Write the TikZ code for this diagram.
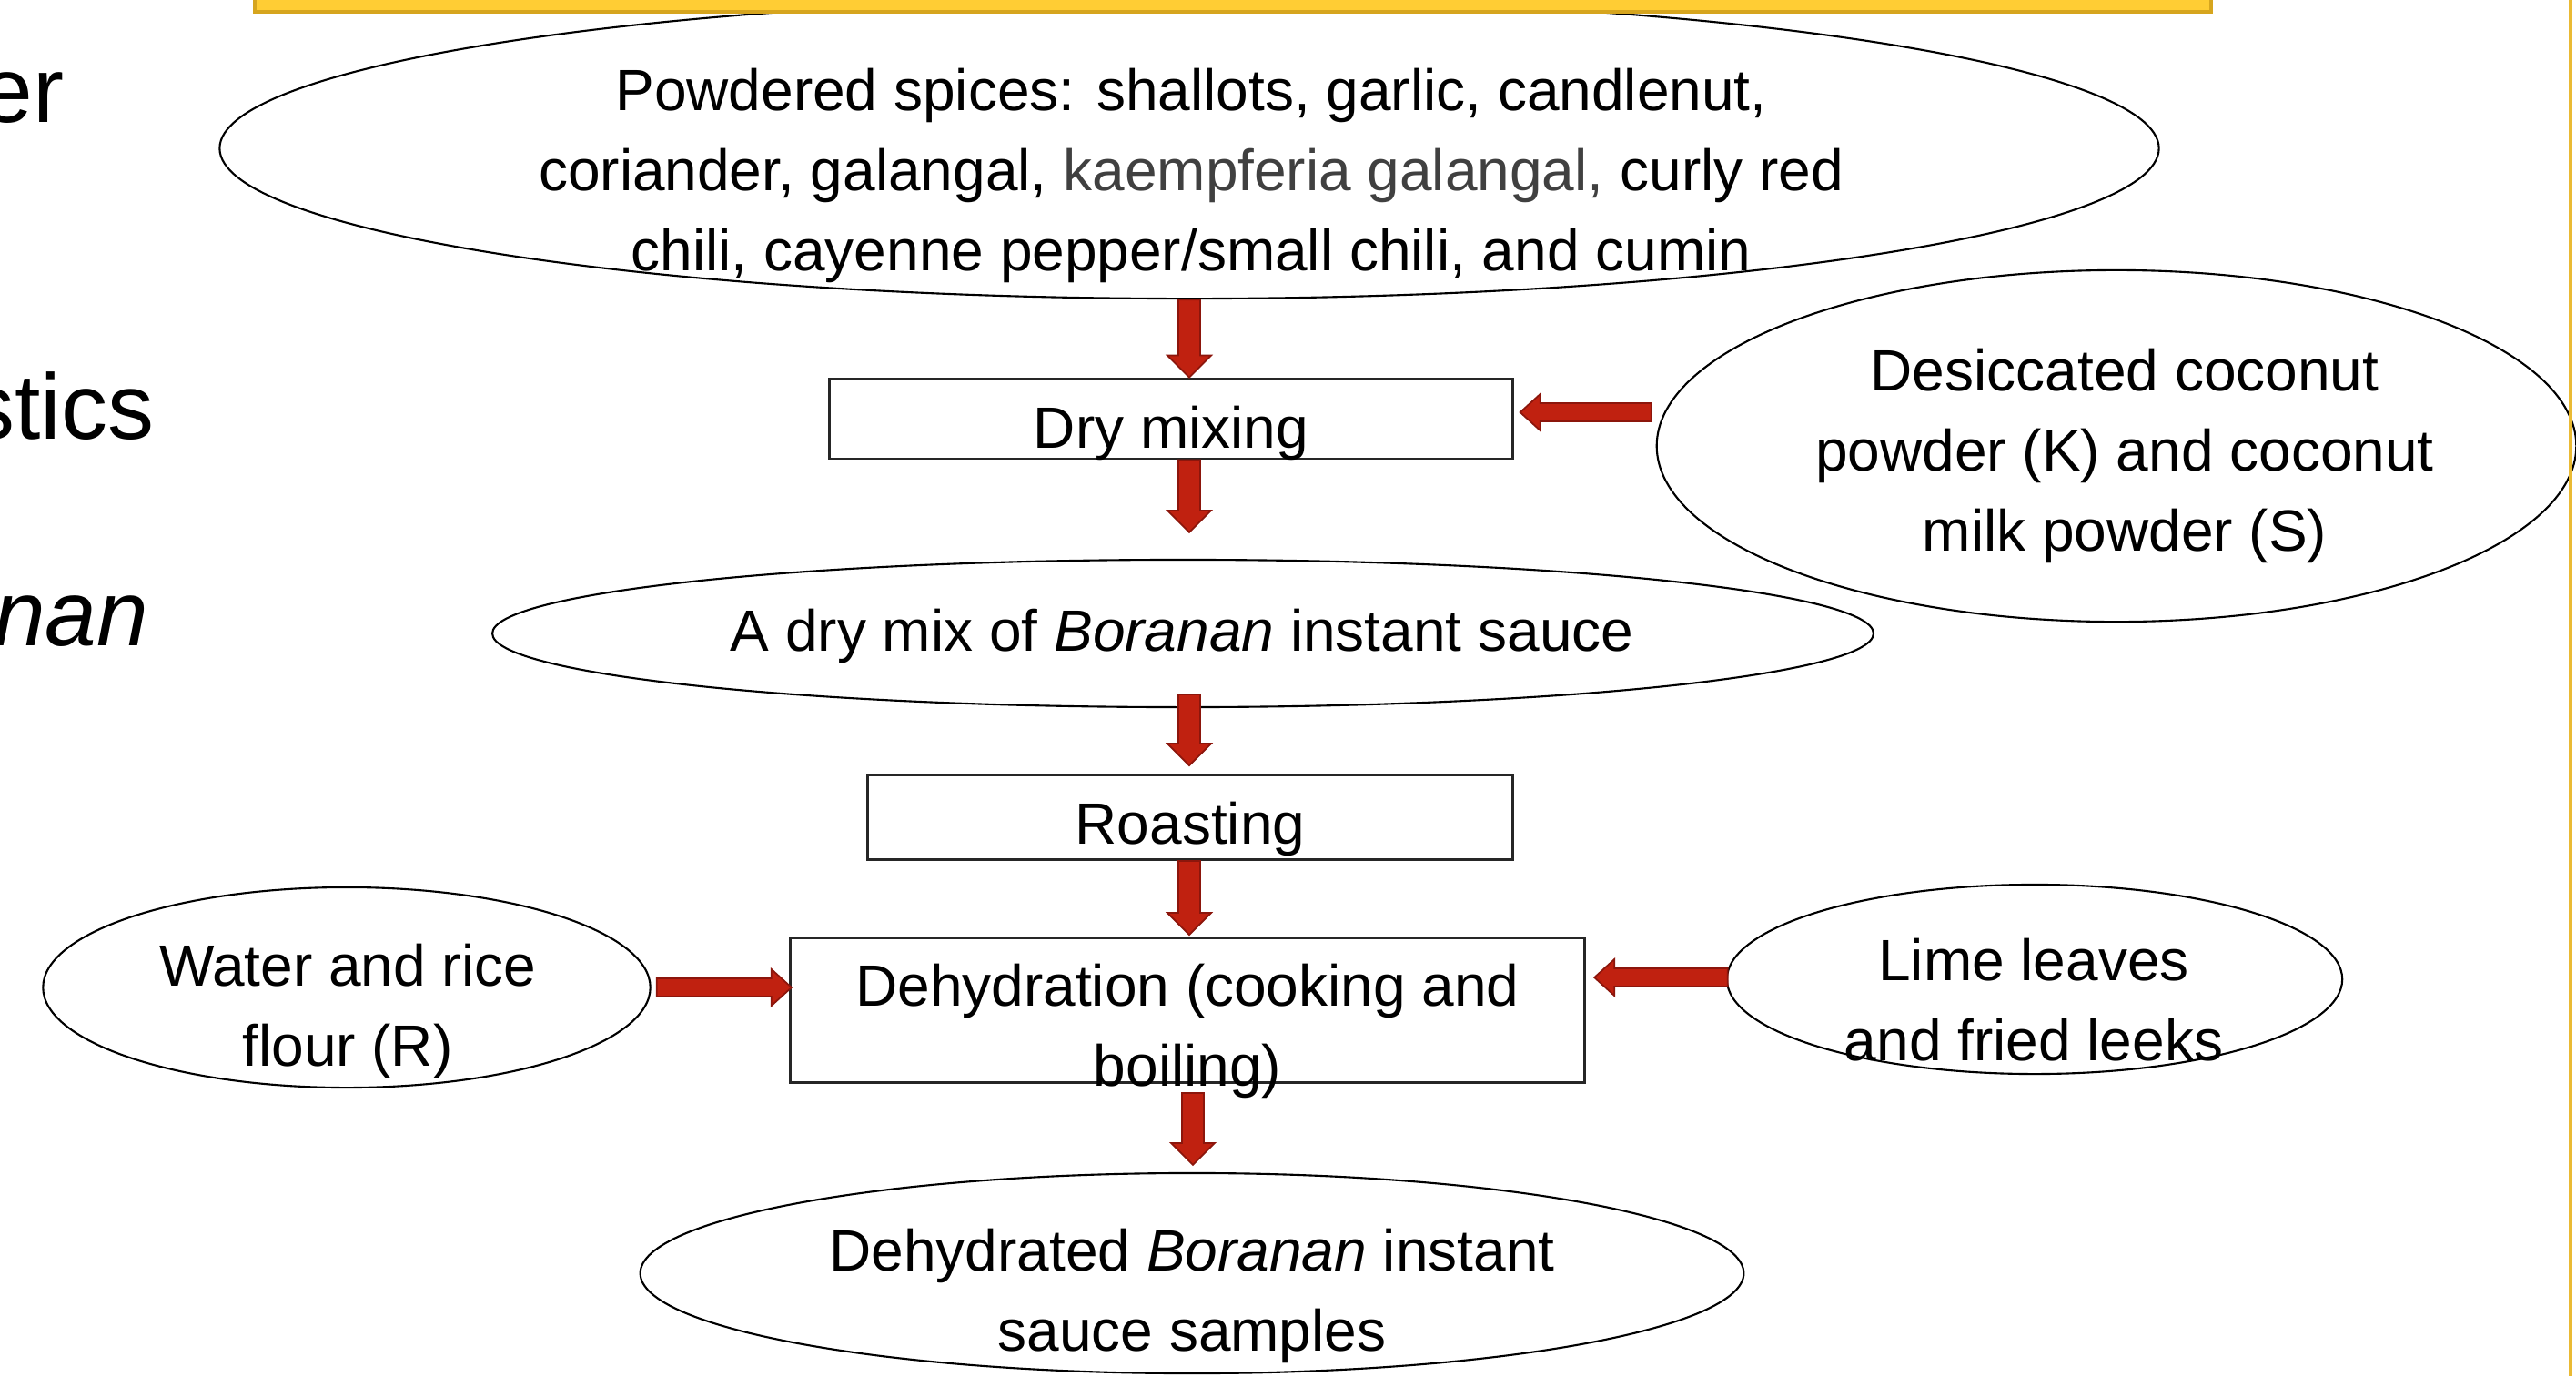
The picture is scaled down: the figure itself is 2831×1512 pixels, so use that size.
\documentclass[tikz,border=0pt]{standalone}
\usepackage{fontspec}
\setmainfont{Liberation Sans}
\usetikzlibrary{shapes.geometric,calc}
\definecolor{arrowred}{RGB}{192,33,16}
\definecolor{arrowdark}{RGB}{140,22,12}
\definecolor{kgray}{RGB}{64,64,64}
\definecolor{baryellow}{RGB}{255,205,52}
\definecolor{baredge}{RGB}{214,165,30}
\definecolor{edgegold}{RGB}{234,186,52}
\tikzset{
 ell/.style={draw=black, line width=0.6pt, ellipse, inner sep=0pt},
 box/.style={draw=black!85, line width=0.8pt, rectangle, inner sep=0pt},
 txt/.style={font=\fontsize{18.2}{24.9}\selectfont, align=center, anchor=base, inner sep=0pt},
 bigtxt/.style={font=\fontsize{29}{34}\selectfont, anchor=base east, inner sep=0pt},
 fatarrow/.style n args={3}{fill=arrowred, draw=arrowdark, line width=0.5pt, line join=miter,
   to path={($(\tikztotarget)!#3!(\tikztostart)$) coordinate (fatH)
     ($(\tikztostart)!#1!90:(\tikztotarget)$) -- ($(fatH)!#1!90:(\tikztotarget)$) -- ($(fatH)!#2!90:(\tikztotarget)$) -- (\tikztotarget) -- ($(fatH)!#2!-90:(\tikztotarget)$) -- ($(fatH)!#1!-90:(\tikztotarget)$) -- ($(\tikztostart)!#1!-90:(\tikztotarget)$) -- cycle}},
 vfat/.style={fatarrow={0.12cm}{0.24cm}{0.24cm}},
 hfat/.style={fatarrow={0.10cm}{0.20cm}{0.22cm}},
}
\begin{document}
\begin{tikzpicture}[x=0.01cm,y=-0.01cm]
\clip (0,0) rectangle (2831,1512);
\fill[white] (0,0) rectangle (2831,1512);

% shapes
\node[ell, minimum width=21.30cm, minimum height=3.30cm] (top) at (1307,163) {};
\node[box, minimum width=7.50cm, minimum height=0.88cm] (dry) at (1287,460) {};
\node[ell, minimum width=10.10cm, minimum height=3.86cm] (coco) at (2326,490) {};
\node[ell, minimum width=15.17cm, minimum height=1.62cm] (mix) at (1300,696) {};
\node[box, minimum width=7.09cm, minimum height=0.93cm] (roast) at (1308,898) {};
\node[box, minimum width=8.73cm, minimum height=1.59cm] (dehy) at (1305,1110) {};
\node[ell, minimum width=6.67cm, minimum height=2.20cm] (water) at (381,1085) {};
\node[ell, minimum width=6.76cm, minimum height=2.08cm] (lime) at (2236,1076) {};
\node[ell, minimum width=12.12cm, minimum height=2.20cm] (final) at (1310,1399) {};

% top bar and right edge line
\draw[fill=baryellow, draw=baredge, line width=1pt] (280,-20) rectangle (2430,13);
\draw[edgegold, line width=0.035cm] (2825,0) -- (2825,1512);

% texts (anchor = baseline of the last line)
\node[txt] (topT) at (1309,297) {Powdered spices: shallots, garlic, candlenut,\\ coriander, galangal, {\color{kgray}kaempferia galangal,} curly red\\ chili, cayenne pepper/small chili, and cumin};
\node[txt] (dryT) at (1287,492) {Dry mixing};
\node[txt] (cocoT) at (2335,605) {Desiccated coconut\\ powder (K) and coconut\\ milk powder (S)};
\node[txt] (mixT) at (1299,715) {A dry mix of \textit{Boranan} instant sauce};
\node[txt] (roastT) at (1308,927) {Roasting};
\node[txt] (dehyT) at (1305,1193) {Dehydration (cooking and\\ boiling)};
\node[txt] (waterT) at (382,1171) {Water and rice\\ flour (R)};
\node[txt] (limeT) at (2235,1165) {Lime leaves\\ and fried leeks};
\node[txt] (finalT) at (1310,1484) {Dehydrated \textit{Boranan} instant\\ sauce samples};

\node[bigtxt] (lt1) at (71,134) {er};
\node[bigtxt] (lt2) at (170,482) {stics};
\node[bigtxt] (lt3) at (164,709) {\textit{anan}};

% arrow end points
\coordinate (a1s) at (top.south);
\coordinate (a1e) at (top.south |- dry.north);
\coordinate (a2s) at (top.south |- dry.south);
\coordinate (a2e) at ($(top.south |- mix.north)+(0,-29)$);
\coordinate (a3s) at ($(top.south |- mix.south)+(0,-15)$);
\coordinate (a3e) at ($(top.south |- roast.north)+(0,-9)$);
\coordinate (a4s) at (top.south |- roast.south);
\coordinate (a4e) at ($(top.south |- dehy.north)+(0,-2)$);
\coordinate (a5s) at ($(dehy.south)+(6,10)$);
\coordinate (a5e) at ($(dehy.south |- final.north)+(6,-8)$);
\coordinate (a6s) at ($(coco.west)+(-5,-37)$);
\coordinate (a6e) at ($(dry.east)+(7,-7)$);
\coordinate (a7s) at ($(water.east)+(6,0)$);
\coordinate (a7e) at ($(water.east -| dehy.west)+(3,0)$);
\coordinate (a8s) at ($(lime.west)+(2,-2)$);
\coordinate (a8e) at ($(lime.west -| dehy.east)+(9,-2)$);

% arrows
\draw[vfat] (a1s) to (a1e);
\draw[vfat] (a2s) to (a2e);
\draw[vfat] (a3s) to (a3e);
\draw[vfat] (a4s) to (a4e);
\draw[vfat] (a5s) to (a5e);
\draw[hfat] (a6s) to (a6e);
\draw[hfat] (a7s) to (a7e);
\draw[hfat] (a8s) to (a8e);
\end{tikzpicture}
\end{document}
